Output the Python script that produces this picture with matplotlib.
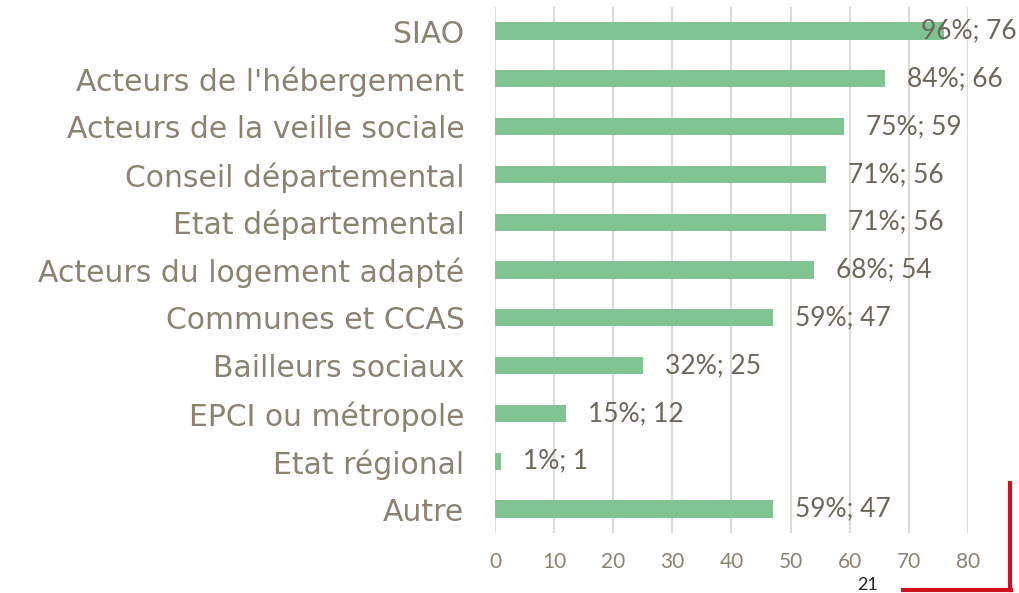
import numpy as np
import matplotlib.pyplot as plt
import matplotlib.transforms as mtransforms
from matplotlib.lines import Line2D

## data
categories = ['SIAO', "Acteurs de l'hébergement", 'Acteurs de la veille sociale',
              'Conseil départemental', 'Etat départemental', 'Acteurs du logement adapté',
              'Communes et CCAS', 'Bailleurs sociaux', 'EPCI ou métropole',
              'Etat régional', 'Autre']
counts = [76, 66, 59, 56, 56, 54, 47, 25, 12, 1, 47]
percents = [96, 84, 75, 71, 71, 68, 59, 32, 15, 1, 59]
xticks = [0, 10, 20, 30, 40, 50, 60, 70, 80]
page_number = '21'

## colours
bar_col = '#7fc492'
lab_col = '#8c8272'
val_col = '#6e665b'
grid_col = '#dedbd5'

plt.rcParams['font.family'] = ['Lato', 'DejaVu Sans']

fig = plt.figure(figsize=(10.19, 5.93), dpi=100)
ax = fig.add_axes([0.4858, 0.1012, 0.9499 - 0.4858, 0.988 - 0.1012])

y = np.arange(len(categories))
ax.barh(y, counts, height=0.36, color=bar_col, zorder=2)
ax.set_ylim(len(categories) - 0.5, -0.5)
ax.set_xlim(0, 80)

ax.set_yticks(y)
ax.set_yticklabels(categories, fontsize=21.5, color=lab_col, family=['DejaVu Sans'])
ax.set_xticks(xticks)
ax.set_xticklabels([str(t) for t in xticks], fontsize=15, color=lab_col)
ax.tick_params(axis='both', length=0)
ax.tick_params(axis='y', pad=22)
ax.tick_params(axis='x', pad=14)
ax.grid(axis='x', color=grid_col, linewidth=1.5, zorder=0)
for s in ax.spines.values():
    s.set_visible(False)

# value labels, the long one is pulled back inside the figure
trans = mtransforms.blended_transform_factory(fig.transFigure, ax.transData)
for yi, c, p in zip(y, counts, percents):
    txt = f'{p}%; {c}'
    if c > 70:
        ax.text(0.998, yi, txt, transform=trans, ha='right', va='center',
                fontsize=19, color=val_col, zorder=3)
    else:
        ax.annotate(txt, (c, yi), xytext=(16, 0), textcoords='offset points',
                    ha='left', va='center', fontsize=19, color=val_col, zorder=3)

# page corner decoration
fig.add_artist(Line2D([1010 / 1019, 1010 / 1019], [1 - 483 / 593, 1 - 590 / 593],
                      transform=fig.transFigure, color='#d0101f', linewidth=3))
fig.add_artist(Line2D([903 / 1019, 1011 / 1019], [1 - 590 / 593, 1 - 590 / 593],
                      transform=fig.transFigure, color='#d0101f', linewidth=3))
fig.text(868 / 1019, 1 - 585 / 593, page_number, ha='center', va='center',
         fontsize=13, color='#222222')

fig.savefig('out.png', dpi=100)
